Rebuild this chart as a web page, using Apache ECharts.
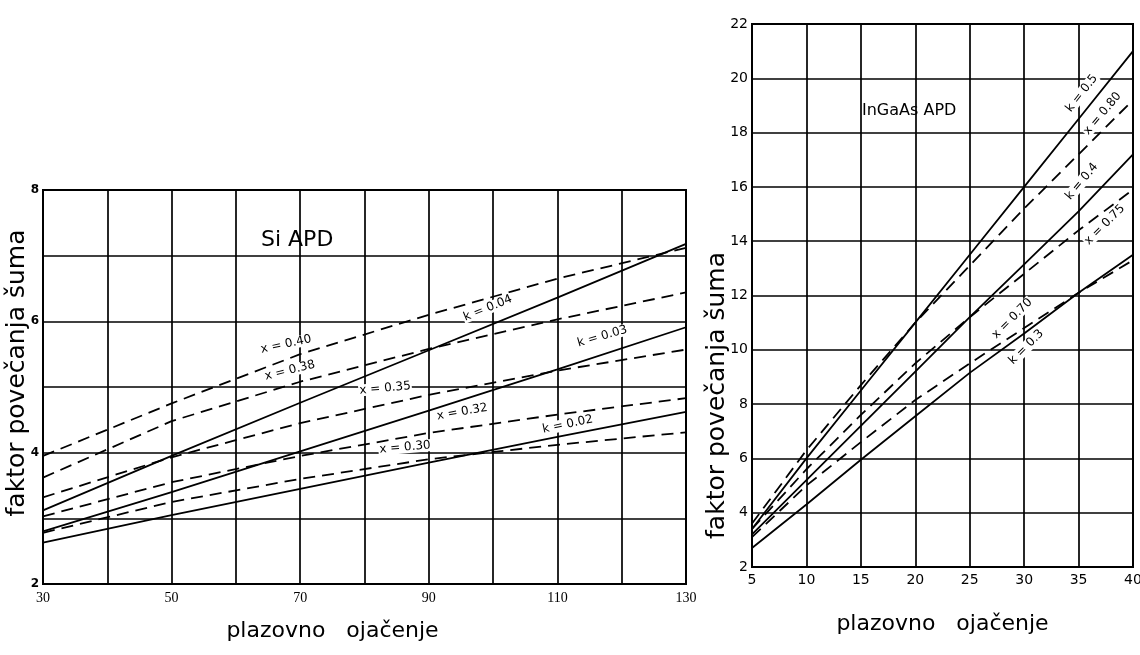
<!DOCTYPE html>
<html>
<head>
<meta charset="utf-8">
<script src="https://cdn.jsdelivr.net/npm/echarts@6/dist/echarts.min.js"></script>
<style>
html,body{margin:0;padding:0;background:#fff;}
#c{width:1140px;height:655px;}
</style>
</head>
<body>
<div id="c"></div>
<script>
// ---------- Si APD (left panel) ----------
const siGain = [30, 50, 70, 90, 110, 130];
const siK004 = [3.12, 3.95, 4.76, 5.56, 6.36, 7.18];
const siK003 = [2.80, 3.40, 4.02, 4.64, 5.27, 5.91];
const siK002 = [2.63, 3.05, 3.45, 3.85, 4.24, 4.62];
const siX040 = [3.95, 4.75, 5.50, 6.10, 6.65, 7.12];
const siX038 = [3.62, 4.48, 5.08, 5.58, 6.03, 6.44];
const siX035 = [3.32, 3.93, 4.45, 4.88, 5.25, 5.57];
const siX032 = [3.03, 3.55, 3.95, 4.30, 4.58, 4.83];
const siX030 = [2.78, 3.25, 3.60, 3.90, 4.12, 4.31];

// ---------- InGaAs APD (right panel) ----------
const inGain = [5, 10, 15, 20, 25, 30, 35, 40];
const inK05  = [3.4, 6.0, 8.5, 11.0, 13.5, 16.0, 18.5, 21.0];
const inK04  = [3.2, 5.2, 7.2, 9.2, 11.2, 13.15, 15.1, 17.2];
const inK03  = [2.7, 4.3, 5.95, 7.55, 9.15, 10.6, 12.1, 13.5];
const inX080 = [3.6, 6.3, 8.7, 11.0, 13.1, 15.2, 17.2, 19.2];
const inX075 = [3.4, 5.6, 7.6, 9.5, 11.2, 12.8, 14.4, 15.9];
const inX070 = [3.1, 5.0, 6.6, 8.15, 9.5, 10.8, 12.1, 13.3];

// curve labels: [text, anchor x, anchor y]
const siLabels = {
  k004: ['k = 0.04', 99.2, 6.2], k003: ['k = 0.03', 117, 5.77], k002: ['k = 0.02', 111.6, 4.43],
  x040: ['x = 0.40', 67.8, 5.65], x038: ['x = 0.38', 68.4, 5.25], x035: ['x = 0.35', 83.2, 4.98],
  x032: ['x = 0.32', 95.2, 4.62], x030: ['x = 0.30', 86.3, 4.08]
};
const inLabels = {
  k05: ['k = 0.5', 35.3, 19.45], k04: ['k = 0.4', 35.3, 16.2], k03: ['k = 0.3', 30.2, 10.1],
  x080: ['x = 0.80', 37.2, 18.7], x075: ['x = 0.75', 37.4, 14.6], x070: ['x = 0.70', 28.9, 11.15]
};

const FONT = 'DejaVu Sans';
function pairs(xs, ys){ return xs.map((v,i)=>[v, ys[i]]); }
function mk(lbl, rot){
  return {
    symbol: 'circle', symbolSize: 0, silent: true,
    data: [{ coord: [lbl[1], lbl[2]] }],
    label: { show: true, position: 'inside', formatter: lbl[0], rotate: rot,
      color: '#000', fontSize: 12, fontFamily: FONT, backgroundColor: '#fff', padding: [0,1] }
  };
}
function series(name, xs, ys, idx, dashed, lbl, rot){
  return {
    name: name, type: 'line', xAxisIndex: idx, yAxisIndex: idx,
    data: pairs(xs, ys), symbol: 'none', smooth: false, animation: false,
    lineStyle: { color: '#000', width: 1.8, type: dashed ? [12, 7] : 'solid' },
    markPoint: mk(lbl, rot), z: 3
  };
}

const axisLineStyle = { show: true, lineStyle: { color: '#000', width: 2 } };
const gridLine = { show: true, lineStyle: { color: '#000', width: 1.7 } };

const chart = echarts.init(document.getElementById('c'), null, { renderer: 'canvas' });
chart.setOption({
  backgroundColor: '#fff',
  animation: false,
  title: [
    { text: 'Si APD', left: 256, top: 224, textStyle: { fontFamily: FONT, fontSize: 22, fontWeight: 'normal', color: '#000' } },
    { text: 'InGaAs APD', left: 857, top: 98, textStyle: { fontFamily: FONT, fontSize: 16, fontWeight: 'normal', color: '#000' } }
  ],
  grid: [
    { left: 43, top: 190, width: 643, height: 394, show: true, borderColor: '#000', borderWidth: 2,
      backgroundColor: '#fff', containLabel: false, outerBoundsMode: 'none' },
    { left: 752, top: 24, width: 381, height: 543, show: true, borderColor: '#000', borderWidth: 2,
      backgroundColor: '#fff', containLabel: false, outerBoundsMode: 'none' }
  ],
  xAxis: [
    { type: 'value', gridIndex: 0, min: 30, max: 130, interval: 10,
      axisLine: axisLineStyle, axisTick: { show: false }, splitLine: gridLine,
      axisLabel: { color: '#000', fontFamily: 'Liberation Serif', fontSize: 14, margin: 7,
        formatter: v => ((v - 30) % 20 === 0 ? String(v) : '') },
      name: 'plazovno   ojačenje', nameLocation: 'middle', nameGap: 36,
      nameTextStyle: { color: '#000', fontFamily: FONT, fontSize: 22, padding: [0, 64, 0, 0] } },
    { type: 'value', gridIndex: 1, min: 5, max: 40, interval: 5,
      axisLine: axisLineStyle, axisTick: { show: false }, splitLine: gridLine,
      axisLabel: { color: '#000', fontFamily: FONT, fontSize: 14, margin: 6 },
      name: 'plazovno   ojačenje', nameLocation: 'middle', nameGap: 46,
      nameTextStyle: { color: '#000', fontFamily: FONT, fontSize: 22 } }
  ],
  yAxis: [
    { type: 'value', gridIndex: 0, min: 2, max: 8, interval: 1,
      axisLine: axisLineStyle, axisTick: { show: false }, splitLine: gridLine,
      axisLabel: { color: '#000', fontFamily: FONT, fontWeight: 'bold', fontSize: 12, margin: 4,
        formatter: v => (v % 2 === 0 ? String(v) : '') },
      name: 'faktor povečanja šuma', nameLocation: 'middle', nameGap: 13, nameMoveOverlap: false,
      nameTextStyle: { color: '#000', fontFamily: FONT, fontSize: 25, padding: [0, 0, 0, 28] } },
    { type: 'value', gridIndex: 1, min: 2, max: 22, interval: 2,
      axisLine: axisLineStyle, axisTick: { show: false }, splitLine: gridLine,
      axisLabel: { color: '#000', fontFamily: FONT, fontSize: 14, margin: 4 },
      name: 'faktor povečanja šuma', nameLocation: 'middle', nameGap: 22, nameMoveOverlap: false,
      nameTextStyle: { color: '#000', fontFamily: FONT, fontSize: 25, padding: [0, 200, 0, 0] } }
  ],
  series: [
    series('k = 0.04', siGain, siK004, 0, false, siLabels.k004, 22),
    series('k = 0.03', siGain, siK003, 0, false, siLabels.k003, 16),
    series('k = 0.02', siGain, siK002, 0, false, siLabels.k002, 12),
    series('x = 0.40', siGain, siX040, 0, true, siLabels.x040, 12),
    series('x = 0.38', siGain, siX038, 0, true, siLabels.x038, 14),
    series('x = 0.35', siGain, siX035, 0, true, siLabels.x035, 5),
    series('x = 0.32', siGain, siX032, 0, true, siLabels.x032, 10),
    series('x = 0.30', siGain, siX030, 0, true, siLabels.x030, 5),
    series('k = 0.5', inGain, inK05, 1, false, inLabels.k05, 52),
    series('k = 0.4', inGain, inK04, 1, false, inLabels.k04, 50),
    series('k = 0.3', inGain, inK03, 1, false, inLabels.k03, 45),
    series('x = 0.80', inGain, inX080, 1, true, inLabels.x080, 50),
    series('x = 0.75', inGain, inX075, 1, true, inLabels.x075, 45),
    series('x = 0.70', inGain, inX070, 1, true, inLabels.x070, 45)
  ]
});
</script>
</body>
</html>
